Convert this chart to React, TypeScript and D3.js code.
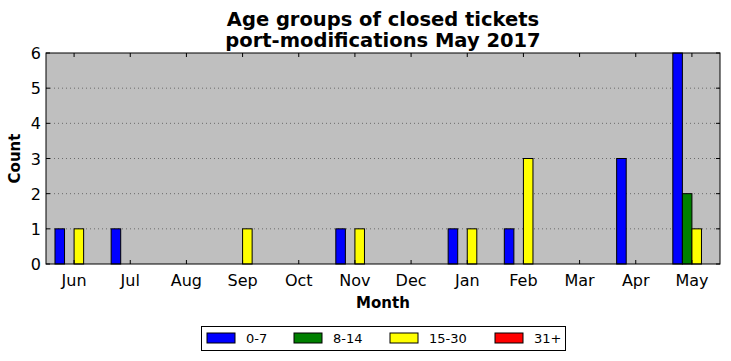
import * as d3 from "d3";

const months = ["Jun", "Jul", "Aug", "Sep", "Oct", "Nov", "Dec", "Jan", "Feb", "Mar", "Apr", "May"];
const groups = ["0-7", "8-14", "15-30", "31+"];
const colors = ["#0000ff", "#008000", "#ffff00", "#ff0000"];

const age0to7 = [1, 1, 0, 0, 0, 1, 0, 1, 1, 0, 3, 6];
const age8to14 = [0, 0, 0, 0, 0, 0, 0, 0, 0, 0, 0, 2];
const age15to30 = [1, 0, 0, 1, 0, 1, 0, 1, 3, 0, 0, 1];
const age31plus = [0, 0, 0, 0, 0, 0, 0, 0, 0, 0, 0, 0];
const series = [age0to7, age8to14, age15to30, age31plus];

const yTicks = [0, 1, 2, 3, 4, 5, 6];

const width = 731;
const height = 361;
const marginLeft = 46;
const marginRight = 11;
const marginTop = 53;
const marginBottom = 97;

const App = () => {
  const x = d3
    .scaleLinear()
    .domain([-0.5, months.length - 0.5])
    .range([marginLeft, width - marginRight]);
  const y = d3
    .scaleLinear()
    .domain([0, 6])
    .range([height - marginBottom, marginTop]);

  const barW = 0.17;
  const x0 = x.range()[0];
  const x1 = x.range()[1];
  const y0 = y.range()[0];
  const y1 = y.range()[1];
  const font = "DejaVu Sans, sans-serif";

  const legendX = [207, 294, 390, 495];

  return (
    <svg
      width={width}
      height={height}
      style={{ position: "absolute", left: 0, top: 0 }}
      fontFamily={font}
    >
      <rect x={0} y={0} width={width} height={height} fill="#fff" />
      <rect x={x0} y={y1} width={x1 - x0} height={y0 - y1} fill="#bfbfbf" />

      {/* grid */}
      {yTicks.slice(1, -1).map((t) => (
        <line
          key={t}
          x1={x0}
          x2={x1}
          y1={y(t)}
          y2={y(t)}
          stroke="#555"
          strokeWidth={0.8}
          strokeDasharray="1,3"
        />
      ))}

      {/* bars */}
      {series.map((vals, si) =>
        vals.map((v, i) => (
          <rect
            key={`${si}-${i}`}
            x={x(i + (si - 2) * barW)}
            y={y(v)}
            width={x(barW) - x(0)}
            height={y0 - y(v)}
            fill={colors[si]}
            stroke="#000"
            strokeWidth={1}
          />
        ))
      )}

      <rect x={x0} y={y1} width={x1 - x0} height={y0 - y1} fill="none" stroke="#000" strokeWidth={1} />

      {/* x ticks */}
      {months.map((m, i) => (
        <g key={m}>
          <line x1={x(i)} x2={x(i)} y1={y0} y2={y0 - 4} stroke="#000" />
          <line x1={x(i)} x2={x(i)} y1={y1} y2={y1 + 4} stroke="#000" />
          <text x={x(i)} y={y0 + 22} textAnchor="middle" fontSize={16}>
            {m}
          </text>
        </g>
      ))}

      {/* y ticks */}
      {yTicks.map((t) => (
        <g key={t}>
          <line x1={x0} x2={x0 + 4} y1={y(t)} y2={y(t)} stroke="#000" />
          <line x1={x1} x2={x1 - 4} y1={y(t)} y2={y(t)} stroke="#000" />
          <text x={x0 - 5} y={y(t) + 6} textAnchor="end" fontSize={16}>
            {t}
          </text>
        </g>
      ))}

      <text x={(x0 + x1) / 2} y={308} textAnchor="middle" fontSize={15} fontWeight="bold">
        Month
      </text>
      <text
        transform={`translate(19.5,${(y0 + y1) / 2}) rotate(-90)`}
        textAnchor="middle"
        fontSize={15}
        fontWeight="bold"
      >
        Count
      </text>

      <text x={(x0 + x1) / 2} y={26} textAnchor="middle" fontSize={19.5} fontWeight="bold">
        Age groups of closed tickets
      </text>
      <text x={(x0 + x1) / 2} y={47} textAnchor="middle" fontSize={19.5} fontWeight="bold">
        port-modifications May 2017
      </text>

      {/* legend */}
      <rect x={201.5} y={326.5} width={364} height={24} fill="#fff" stroke="#000" strokeWidth={1} />
      {groups.map((g, i) => (
        <g key={g}>
          <rect x={legendX[i]} y={333} width={28} height={10} fill={colors[i]} stroke="#000" strokeWidth={1} />
          <text x={legendX[i] + 39} y={343} fontSize={13}>
            {g}
          </text>
        </g>
      ))}
    </svg>
  );
};

export default App;
